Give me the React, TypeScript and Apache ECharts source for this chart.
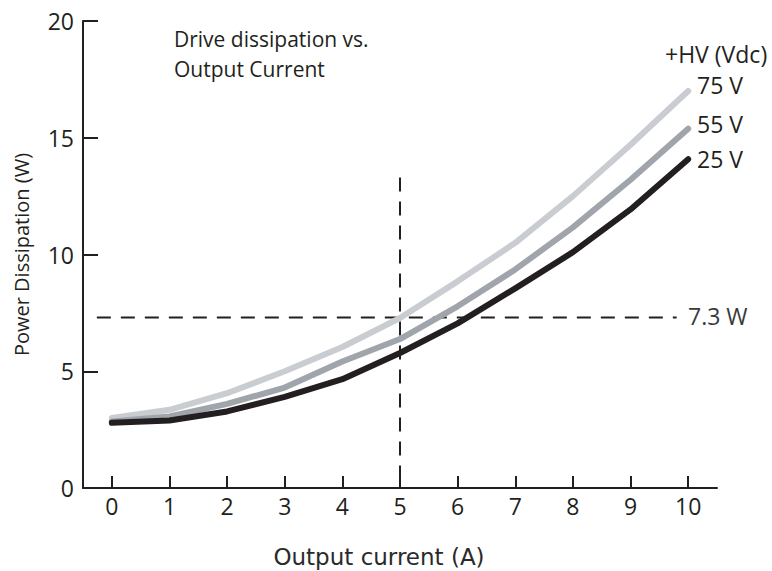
import React, { useEffect, useRef } from "react";
import * as echarts from "echarts";

const currents = [0, 1, 2, 3, 4, 5, 6, 7, 8, 9, 10];
const v75 = [3.0, 3.35, 4.06, 5.0, 6.04, 7.28, 8.85, 10.5, 12.5, 14.7, 17.0];
const v55 = [2.85, 3.06, 3.6, 4.3, 5.42, 6.38, 7.78, 9.36, 11.16, 13.2, 15.39];
const v25 = [2.79, 2.89, 3.28, 3.9, 4.66, 5.78, 7.05, 8.55, 10.1, 11.93, 14.08];
const xTicks = [0, 1, 2, 3, 4, 5, 6, 7, 8, 9, 10];
const refCurrent = 5;
const refPower = 7.3;
const vLineTop = 13.3;
const hLineRange = [-0.26, 9.8];

const seriesNames = ["75 V", "55 V", "25 V"];
const seriesColors = ["#c9ccd1", "#9fa5aa", "#231f20"];

const FONT = "'Open Sans', 'Noto Sans', sans-serif";
const INK = "#231f20";

export default function App() {
  const ref = useRef<HTMLDivElement>(null);
  useEffect(() => {
    if (!ref.current) return;
    const chart = echarts.init(ref.current, null, { renderer: "svg" });
    const mk = (arr: number[]) => currents.map((c, i) => [c, arr[i]]);
    const curveData = [v75, v55, v25];
    chart.setOption({
      animation: false,
      backgroundColor: "#ffffff",
      grid: { left: 83, right: 55, top: 21, bottom: 83, containLabel: false, outerBoundsMode: "none" },
      xAxis: {
        type: "value",
        min: -0.5,
        max: 10.5,
        axisLine: { show: true, onZero: false, lineStyle: { color: INK, width: 2 } },
        axisTick: { show: true, inside: true, length: 12, customValues: xTicks, lineStyle: { color: INK, width: 2 } },
        axisLabel: { customValues: xTicks, fontFamily: FONT, fontSize: 23, color: INK, margin: 6 },
        splitLine: { show: false },
      },
      yAxis: {
        type: "value",
        min: 0,
        max: 20,
        interval: 5,
        name: "Power Dissipation (W)",
        nameLocation: "middle",
        nameGap: 52,
        nameTextStyle: { fontFamily: FONT, fontSize: 20, color: INK },
        axisLine: { show: true, onZero: false, lineStyle: { color: INK, width: 2 } },
        axisTick: { show: true, inside: true, length: 15, lineStyle: { color: INK, width: 2 } },
        axisLabel: { fontFamily: FONT, fontSize: 23, color: INK, margin: 9 },
        splitLine: { show: false },
      },
      series: [
        {
          type: "line",
          data: [[refCurrent, vLineTop], [refCurrent, 0]],
          symbol: "none",
          silent: true,
          lineStyle: { color: INK, width: 2, type: [14, 10] },
          z: 1,
        },
        {
          type: "line",
          data: [[hLineRange[0], refPower], [hLineRange[1], refPower]],
          symbol: "none",
          silent: true,
          lineStyle: { color: INK, width: 2, type: [14, 10] },
          z: 1,
        },
        ...curveData.map((arr, i) => ({
          type: "line",
          name: seriesNames[i],
          data: mk(arr),
          symbol: "none",
          smooth: false,
          lineStyle: { color: seriesColors[i], width: 6, cap: "round", join: "round" },
          z: 2 + i,
        })),
      ],
      graphic: [
        { type: "text", left: 174, top: 28, style: { text: "Drive dissipation vs.", font: `21px ${FONT}`, fill: INK } },
        { type: "text", left: 174, top: 58, style: { text: "Output Current", font: `21px ${FONT}`, fill: INK } },
        { type: "text", left: 665, top: 42, style: { text: "+HV (Vdc)", font: `23px ${FONT}`, fill: INK } },
        { type: "text", left: 697, top: 73, style: { text: seriesNames[0], font: `23px ${FONT}`, fill: INK } },
        { type: "text", left: 697, top: 112, style: { text: seriesNames[1], font: `23px ${FONT}`, fill: INK } },
        { type: "text", left: 697, top: 147, style: { text: seriesNames[2], font: `23px ${FONT}`, fill: INK } },
        { type: "text", left: 688, top: 304, style: { text: "7.3 W", font: `23px ${FONT}`, fill: "#3a3a3a" } },
        {
          type: "text",
          x: 379,
          y: 557,
          style: {
            text: "Output current (A)",
            font: `23px 'DejaVu Sans', sans-serif`,
            fill: "#2a2a2a",
            align: "center",
            verticalAlign: "middle",
          },
        },
      ],
    });
    return () => chart.dispose();
  }, []);
  return <div ref={ref} style={{ width: 772, height: 571, position: "absolute", left: 0, top: 0 }} />;
}
